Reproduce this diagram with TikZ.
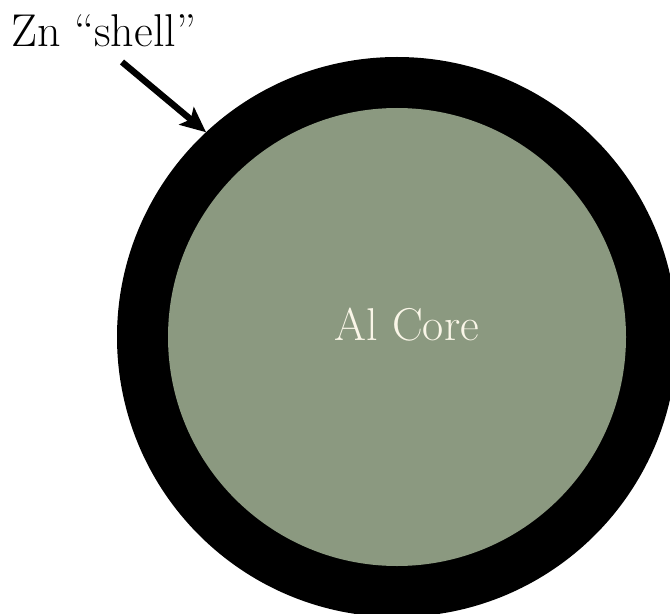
\documentclass[tikz,border=0pt]{standalone}
\usetikzlibrary{arrows.meta}
\definecolor{coregreen}{RGB}{139,153,128}
\definecolor{corecream}{RGB}{250,246,232}
\tikzset{
  disc/.style={circle, inner sep=0pt, outer sep=0pt, draw=none},
  label/.style={inner sep=0pt, font=\fontsize{34.5}{41}\selectfont},
  pointer/.style={line width=4.8pt, -{Stealth[length=19pt, width=17pt, inset=4pt]}}
}
\begin{document}
\begin{tikzpicture}[x=0.75pt, y=-0.75pt]
\useasboundingbox (0,0) rectangle (670,613);
\clip (0,0) rectangle (670,613);
\fill[white] (0,0) rectangle (670,613);
\node[disc, fill=black, minimum size=420pt] (shell) at (397,337) {};
\node[disc, fill=coregreen, minimum size=343.5pt] (core) at (397,337) {};
\node[label, text=corecream, anchor=base] (coretext) at (407,340) {Al Core};
\node[label, anchor=base west] (zn) at (11,47) {Zn “shell”};
\coordinate (tail) at (122,62);
\draw[pointer] (tail) -- (shell.133.6);
\end{tikzpicture}
\end{document}
